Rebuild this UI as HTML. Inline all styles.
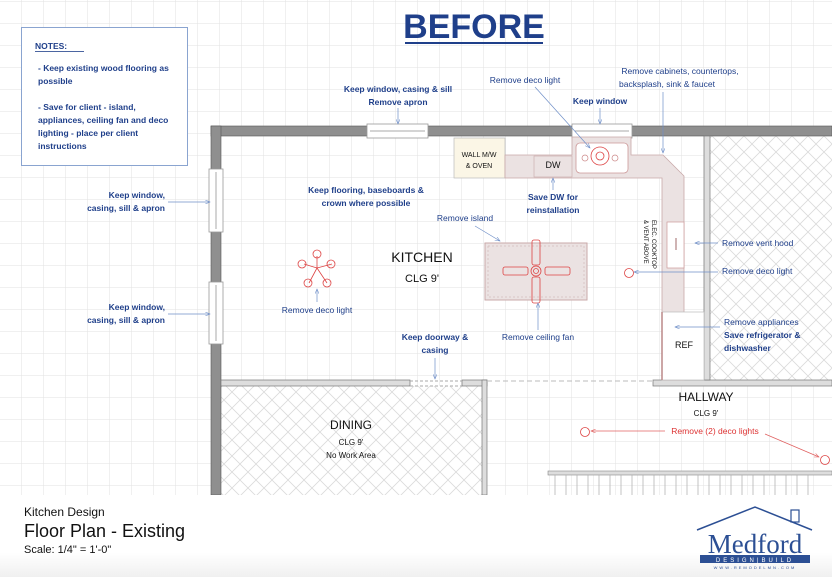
<!DOCTYPE html>
<html><head><meta charset="utf-8"><style>
html,body{margin:0;padding:0;background:#fff}
svg{display:block}
.b{font-family:"Liberation Sans",sans-serif;fill:#1f3f8a;font-size:8.5px;font-weight:bold}
.k{font-family:"Liberation Sans",sans-serif;fill:#111}
</style></head><body>
<svg width="832" height="577" viewBox="0 0 832 577" xmlns="http://www.w3.org/2000/svg">
<defs>
<pattern id="g" width="22" height="22" patternUnits="userSpaceOnUse" x="0" y="2">
<path d="M22 0V22M0 22H22" stroke="#e2e2e2" stroke-width="1" fill="none"/></pattern>
<pattern id="h" width="16" height="16" patternUnits="userSpaceOnUse">
<path d="M0 0L16 16M16 0L0 16" stroke="#dadada" stroke-width="0.8" fill="none"/></pattern>
<marker id="a" markerWidth="8" markerHeight="6" refX="7" refY="3" orient="auto"><path d="M0 0L7 3L0 6" fill="none" stroke="#6f8fc8" stroke-width="0.8"/></marker>
<marker id="r" markerWidth="8" markerHeight="6" refX="7" refY="3" orient="auto"><path d="M0 0L7 3L0 6" fill="none" stroke="#e06060" stroke-width="0.8"/></marker>
<linearGradient id="fg" x1="0" y1="0" x2="0" y2="1"><stop offset="0.7" stop-color="#fff"/><stop offset="1" stop-color="#f0f0f0"/></linearGradient>
</defs>
<rect width="832" height="495" fill="#fff"/>
<rect width="832" height="495" fill="url(#g)"/>
<rect x="710" y="136" width="122" height="244" fill="#fff"/>
<rect x="710" y="136" width="122" height="244" fill="url(#h)"/>
<rect x="221" y="386" width="261" height="109" fill="#fff"/>
<rect x="221" y="386" width="261" height="109" fill="url(#h)"/>
<text x="474" y="38" text-anchor="middle" font-family="Liberation Sans,sans-serif" font-weight="bold" font-size="34" fill="#1f3f8a">BEFORE</text>
<rect x="405" y="42" width="138" height="2" fill="#1f3f8a"/>
<rect x="21.5" y="27.5" width="166" height="138" fill="#fff" stroke="#8aa4d0"/>
<text x="35" y="49" class="b" font-size="12" font-weight="normal">NOTES:</text>
<rect x="35" y="51" width="49" height="0.8" fill="#1f3f8a"/>
<text class="b" font-size="8.5"><tspan x="38" y="71">- Keep existing wood flooring as</tspan><tspan x="38" y="84">possible</tspan><tspan x="38" y="110">- Save for client - island,</tspan><tspan x="38" y="123">appliances, ceiling fan and deco</tspan><tspan x="38" y="136">lighting - place per client</tspan><tspan x="38" y="149">instructions</tspan></text>
<rect x="211" y="126" width="621" height="10" fill="#8f8f8f" stroke="#555" stroke-width="0.6"/>
<rect x="211" y="126" width="10" height="369" fill="#8f8f8f" stroke="#555" stroke-width="0.6"/>
<rect x="367" y="124" width="61" height="14" fill="#fff" stroke="#999" stroke-width="0.8"/>
<line x1="370" y1="131" x2="425" y2="131" stroke="#aaa"/>
<rect x="572" y="124" width="60" height="14" fill="#fff" stroke="#999" stroke-width="0.8"/>
<line x1="575" y1="131" x2="629" y2="131" stroke="#aaa"/>
<rect x="209" y="169" width="14" height="63" fill="#fff" stroke="#999" stroke-width="0.8"/>
<line x1="216" y1="172" x2="216" y2="229" stroke="#aaa"/>
<rect x="209" y="282" width="14" height="62" fill="#fff" stroke="#999" stroke-width="0.8"/>
<line x1="216" y1="285" x2="216" y2="341" stroke="#aaa"/>
<rect x="221" y="380" width="189" height="6" fill="#ddd" stroke="#777" stroke-width="0.7"/>
<rect x="462" y="380" width="25" height="6" fill="#ddd" stroke="#777" stroke-width="0.7"/>
<rect x="482" y="380" width="5" height="115" fill="#ddd" stroke="#777" stroke-width="0.7"/>
<line x1="410" y1="381" x2="462" y2="381" stroke="#aaa" stroke-dasharray="3,2"/>
<line x1="410" y1="386" x2="462" y2="386" stroke="#aaa" stroke-dasharray="3,2"/>
<line x1="487" y1="381" x2="653" y2="381" stroke="#bbb" stroke-dasharray="5,3"/>
<rect x="653" y="380" width="179" height="6" fill="#ddd" stroke="#777" stroke-width="0.7"/>
<rect x="704" y="136" width="6" height="244" fill="#ddd" stroke="#777" stroke-width="0.7"/>
<rect x="454" y="138" width="51" height="40" fill="#fbf6e6" stroke="#bbb" stroke-width="0.7"/>
<text x="479" y="157" text-anchor="middle" class="k" font-size="7">WALL M/W</text>
<text x="479" y="168" text-anchor="middle" class="k" font-size="7">&amp; OVEN</text>
<path d="M505 155H572V137H631V155H663L684 176V380H662V178H505Z" fill="#ebe2e2" stroke="#c9a9a9" stroke-width="0.8"/>
<rect x="534" y="156" width="38" height="21" fill="#ebe2e2" stroke="#c9a9a9" stroke-width="0.6"/>
<text x="553" y="168" text-anchor="middle" class="k" font-size="9">DW</text>
<rect x="576" y="143" width="52" height="30" rx="4" fill="#fff" stroke="#c99" stroke-width="0.8"/>
<circle cx="600" cy="156" r="9" fill="none" stroke="#d44" stroke-width="0.8"/>
<circle cx="600" cy="156" r="4" fill="none" stroke="#d44" stroke-width="0.8"/>
<circle cx="585" cy="158" r="3" fill="none" stroke="#c88" stroke-width="0.7"/>
<circle cx="615" cy="158" r="3" fill="none" stroke="#c88" stroke-width="0.7"/>
<rect x="667" y="222" width="17" height="46" fill="#fff" stroke="#c99" stroke-width="0.7"/>
<line x1="676" y1="238" x2="676" y2="250" stroke="#844" stroke-width="0.8"/>
<rect x="662" y="312" width="42" height="68" fill="#fff" stroke="#bbb" stroke-width="0.7"/>
<line x1="662" y1="312" x2="662" y2="380" stroke="#b88" stroke-width="1.5"/>
<text x="684" y="348" text-anchor="middle" class="k" font-size="9">REF</text>
<text transform="translate(652,220) rotate(90)" class="k" font-size="6">ELEC. COOKTOP</text>
<text transform="translate(644,220) rotate(90)" class="k" font-size="6">&amp; VENT ABOVE</text>
<rect x="485" y="243" width="102" height="57" fill="#ebe2e2" stroke="#c9a9a9"/>
<rect x="488" y="246" width="96" height="51" fill="none" stroke="#c9a9a9" stroke-dasharray="2,2" stroke-width="0.5"/>
<g fill="none" stroke="#d44" stroke-width="0.8">
<rect x="532" y="240" width="8" height="25" rx="2"/><rect x="532" y="277" width="8" height="26" rx="2"/>
<rect x="503" y="267" width="25" height="8" rx="2"/><rect x="545" y="267" width="25" height="8" rx="2"/>
<circle cx="536" cy="271" r="5"/><circle cx="536" cy="271" r="2.5"/>
</g>
<g fill="none" stroke="#d44" stroke-width="0.8">
<path d="M317 268L317 256M317 268L304 264M317 268L332 264M317 268L309 283M317 268L327 283"/>
<circle cx="317" cy="254" r="4"/><circle cx="302" cy="264" r="4"/><circle cx="331" cy="264" r="4"/><circle cx="308" cy="283" r="4"/><circle cx="327" cy="283" r="4"/>
</g>
<circle cx="629" cy="273" r="4.5" fill="none" stroke="#d44" stroke-width="0.8"/>
<circle cx="585" cy="432" r="4.5" fill="none" stroke="#d44" stroke-width="0.8"/>
<circle cx="825" cy="460" r="4.5" fill="none" stroke="#d44" stroke-width="0.8"/>
<rect x="548" y="471" width="284" height="4" fill="#ddd" stroke="#888" stroke-width="0.6"/>
<g stroke="#aaa" stroke-width="0.7">
<line x1="555" y1="475" x2="555" y2="495"/><line x1="566" y1="475" x2="566" y2="495"/><line x1="577" y1="475" x2="577" y2="495"/><line x1="588" y1="475" x2="588" y2="495"/><line x1="599" y1="475" x2="599" y2="495"/><line x1="610" y1="475" x2="610" y2="495"/><line x1="621" y1="475" x2="621" y2="495"/><line x1="632" y1="475" x2="632" y2="495"/><line x1="643" y1="475" x2="643" y2="495"/><line x1="654" y1="475" x2="654" y2="495"/><line x1="665" y1="475" x2="665" y2="495"/><line x1="676" y1="475" x2="676" y2="495"/><line x1="687" y1="475" x2="687" y2="495"/><line x1="698" y1="475" x2="698" y2="495"/><line x1="709" y1="475" x2="709" y2="495"/><line x1="720" y1="475" x2="720" y2="495"/><line x1="731" y1="475" x2="731" y2="495"/><line x1="742" y1="475" x2="742" y2="495"/><line x1="753" y1="475" x2="753" y2="495"/><line x1="764" y1="475" x2="764" y2="495"/><line x1="775" y1="475" x2="775" y2="495"/><line x1="786" y1="475" x2="786" y2="495"/><line x1="797" y1="475" x2="797" y2="495"/><line x1="808" y1="475" x2="808" y2="495"/>
</g>
<text x="422" y="262" text-anchor="middle" class="k" font-size="14">KITCHEN</text>
<text x="422" y="282" text-anchor="middle" class="k" font-size="11">CLG 9'</text>
<text x="351" y="429" text-anchor="middle" class="k" font-size="12">DINING</text>
<text x="351" y="445" text-anchor="middle" class="k" font-size="8">CLG 9'</text>
<text x="351" y="458" text-anchor="middle" class="k" font-size="8">No Work Area</text>
<text x="706" y="401" text-anchor="middle" class="k" font-size="12">HALLWAY</text>
<text x="706" y="416" text-anchor="middle" class="k" font-size="8">CLG 9'</text>
<g class="b">
<text x="398" y="92" text-anchor="middle">Keep window, casing &amp; sill</text>
<text x="398" y="105" text-anchor="middle">Remove apron</text>
<text x="525" y="83" text-anchor="middle" font-weight="normal">Remove deco light</text>
<text x="680" y="74" text-anchor="middle" font-weight="normal">Remove cabinets, countertops,</text>
<text x="667" y="87" text-anchor="middle" font-weight="normal">backsplash, sink &amp; faucet</text>
<text x="600" y="104" text-anchor="middle">Keep window</text>
<text x="553" y="200" text-anchor="middle">Save DW for</text>
<text x="553" y="213" text-anchor="middle">reinstallation</text>
<text x="366" y="193" text-anchor="middle">Keep flooring, baseboards &amp;</text>
<text x="366" y="206" text-anchor="middle">crown where possible</text>
<text x="465" y="221" text-anchor="middle" font-weight="normal">Remove island</text>
<text x="165" y="198" text-anchor="end">Keep window,</text>
<text x="165" y="211" text-anchor="end">casing, sill &amp; apron</text>
<text x="165" y="310" text-anchor="end">Keep window,</text>
<text x="165" y="323" text-anchor="end">casing, sill &amp; apron</text>
<text x="317" y="313" text-anchor="middle" font-weight="normal">Remove deco light</text>
<text x="538" y="340" text-anchor="middle" font-weight="normal">Remove ceiling fan</text>
<text x="435" y="340" text-anchor="middle">Keep doorway &amp;</text>
<text x="435" y="353" text-anchor="middle">casing</text>
<text x="722" y="246" font-weight="normal">Remove vent hood</text>
<text x="722" y="274" font-weight="normal">Remove deco light</text>
<text x="724" y="325" font-weight="normal">Remove appliances</text>
<text x="724" y="338">Save refrigerator &amp;</text>
<text x="724" y="351">dishwasher</text>
</g>
<text x="715" y="434" text-anchor="middle" font-family="Liberation Sans,sans-serif" font-size="8.5" fill="#d33">Remove (2) deco lights</text>
<g stroke="#6f8fc8" stroke-width="0.7" fill="none" marker-end="url(#a)">
<line x1="398" y1="108" x2="398" y2="124"/>
<line x1="535" y1="87" x2="590" y2="148"/>
<line x1="663" y1="92" x2="663" y2="153"/>
<line x1="600" y1="108" x2="600" y2="124"/>
<line x1="553" y1="190" x2="553" y2="178"/>
<line x1="475" y1="226" x2="500" y2="241"/>
<line x1="168" y1="202" x2="210" y2="202"/>
<line x1="168" y1="314" x2="210" y2="314"/>
<line x1="317" y1="302" x2="317" y2="289"/>
<line x1="538" y1="330" x2="538" y2="303"/>
<line x1="435" y1="358" x2="435" y2="379"/>
<line x1="718" y1="243" x2="695" y2="243"/>
<line x1="718" y1="272" x2="634" y2="272"/>
<line x1="720" y1="327" x2="675" y2="327"/>
</g>
<g stroke="#e06060" stroke-width="0.7" fill="none" marker-end="url(#r)">
<line x1="665" y1="431" x2="591" y2="431"/>
<line x1="765" y1="434" x2="819" y2="457"/>
</g>
<rect x="0" y="495" width="832" height="82" fill="url(#fg)"/>
<text x="24" y="516" class="k" font-size="12">Kitchen Design</text>
<text x="24" y="537" class="k" font-size="18">Floor Plan - Existing</text>
<text x="24" y="553" class="k" font-size="11">Scale: 1/4" = 1'-0"</text>
<g>
<path d="M697 530L755 507L812 530" fill="none" stroke="#2c4f94" stroke-width="1.5"/>
<rect x="791" y="510" width="8" height="12" fill="none" stroke="#2c4f94" stroke-width="1.2"/>
<text x="755" y="553" text-anchor="middle" font-family="Liberation Serif,serif" font-size="27" fill="#2c4f94">Medford</text>
<rect x="700" y="555" width="110" height="8" fill="#2c4f94"/>
<text x="755" y="562" text-anchor="middle" font-family="Liberation Sans,sans-serif" font-size="6" fill="#fff" letter-spacing="3">DESIGN|BUILD</text>
<text x="755" y="569" text-anchor="middle" font-family="Liberation Sans,sans-serif" font-size="4" fill="#2c4f94" letter-spacing="2">WWW.REMODELMN.COM</text>
</g>
</svg>
</body></html>
